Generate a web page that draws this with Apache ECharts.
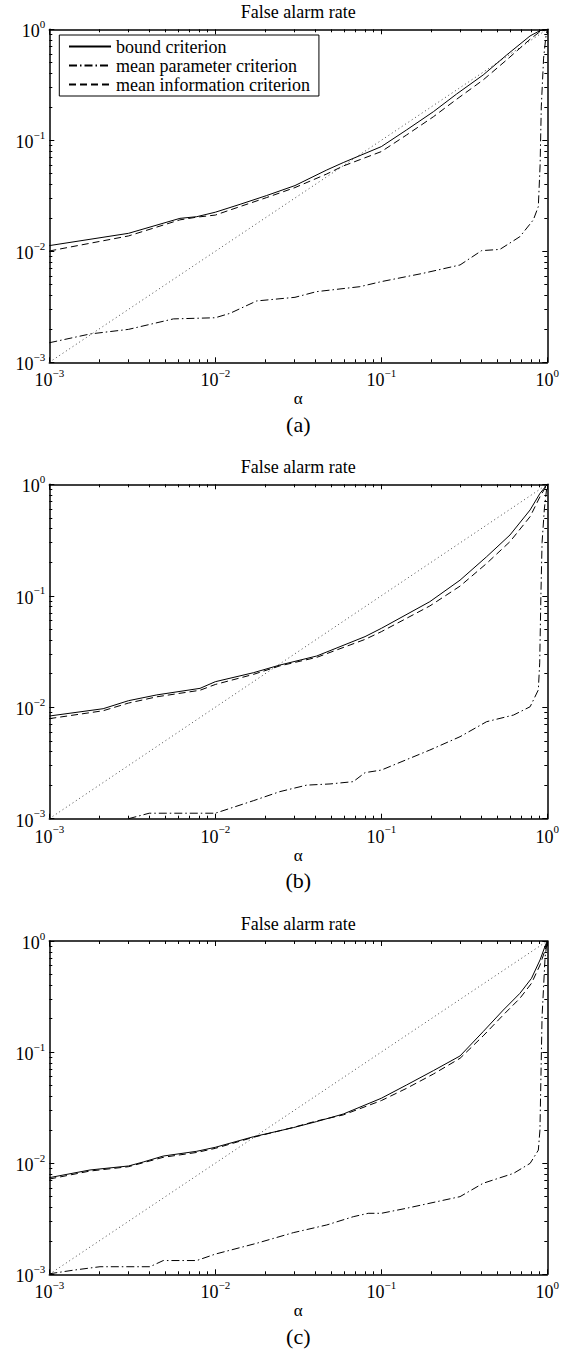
<!DOCTYPE html>
<html>
<head>
<meta charset="utf-8">
<script src="https://cdn.jsdelivr.net/npm/echarts@6/dist/echarts.min.js"></script>
<style>
html,body{margin:0;padding:0;background:#fff}
#c{width:572px;height:1349px}
</style>
</head>
<body>
<div id="c"></div>
<script>
// ---------- data ----------
const seriesNames = ['bound criterion', 'mean parameter criterion', 'mean information criterion'];
const titleText = 'False alarm rate';
const xName = 'α';
const panelLabels = ['(a)', '(b)', '(c)'];
const minorTicks = [0.002, 0.003, 0.004, 0.005, 0.006, 0.007, 0.008, 0.009,
                    0.02, 0.03, 0.04, 0.05, 0.06, 0.07, 0.08, 0.09,
                    0.2, 0.3, 0.4, 0.5, 0.6, 0.7, 0.8, 0.9];
const diagAlpha = [0.001, 1];
const diagValue = [0.001, 1];

// panel (a)
const alphaA = [0.001, 0.003, 0.00612, 0.00773, 0.01, 0.0141, 0.0204, 0.0302, 0.0469, 0.059, 0.1, 0.142, 0.206, 0.284, 0.411, 0.569, 0.787, 0.904, 1];
const boundA = [0.01125, 0.01452, 0.0198, 0.0205, 0.0225, 0.0265, 0.0318, 0.0391, 0.054, 0.063, 0.0877, 0.124, 0.181, 0.261, 0.388, 0.587, 0.871, 0.973, 1];
const infoA  = [0.01006, 0.01375, 0.0192, 0.0203, 0.0212, 0.0253, 0.0305, 0.0375, 0.0497, 0.0587, 0.0791, 0.1117, 0.163, 0.234, 0.350, 0.530, 0.813, 0.953, 1];
const mpAlphaA = [0.001, 0.00176, 0.003, 0.00559, 0.01, 0.01225, 0.01774, 0.0302, 0.0407, 0.0743, 0.1, 0.179, 0.298, 0.402, 0.518, 0.684, 0.824, 0.883, 0.905, 0.92, 0.95, 0.98, 1];
const mpA      = [0.0015, 0.0018, 0.00198, 0.00246, 0.00252, 0.00276, 0.00357, 0.00385, 0.00433, 0.0048, 0.00533, 0.00634, 0.00753, 0.01014, 0.0104, 0.01355, 0.0192, 0.0253, 0.06, 0.2, 0.55, 0.85, 1];

// panel (b)
const alphaB = [0.001, 0.00211, 0.003, 0.00444, 0.00809, 0.01, 0.01695, 0.0245, 0.0408, 0.0798, 0.1, 0.196, 0.298, 0.431, 0.596, 0.788, 0.904, 1];
const boundB = [0.00834, 0.0097, 0.01145, 0.0129, 0.01477, 0.01695, 0.0204, 0.0239, 0.0288, 0.043, 0.051, 0.0885, 0.138, 0.224, 0.351, 0.589, 0.83, 1];
const infoB  = [0.0079, 0.0093, 0.0109, 0.0124, 0.0142, 0.0160, 0.0197, 0.0235, 0.0280, 0.0406, 0.0476, 0.081, 0.122, 0.195, 0.306, 0.513, 0.775, 1];
const mpAlphaB = [0.003, 0.004, 0.01, 0.01695, 0.0245, 0.0355, 0.0491, 0.0678, 0.0798, 0.1, 0.196, 0.298, 0.431, 0.626, 0.788, 0.883, 0.9, 0.915, 0.93, 0.96, 0.99, 1];
const mpB      = [0.001, 0.00112, 0.00112, 0.00145, 0.00175, 0.0020, 0.00205, 0.00215, 0.00259, 0.00273, 0.00413, 0.00544, 0.00742, 0.00851, 0.0101, 0.0143, 0.025, 0.1, 0.3, 0.6, 0.9, 1];

// panel (c)
const alphaC = [0.001, 0.00176, 0.003, 0.00368, 0.00486, 0.00773, 0.01, 0.01695, 0.0295, 0.0408, 0.059, 0.1, 0.142, 0.206, 0.298, 0.411, 0.543, 0.684, 0.803, 0.904, 0.97, 1];
const boundC = [0.00741, 0.00869, 0.00944, 0.01025, 0.0116, 0.0128, 0.0139, 0.0173, 0.0209, 0.0237, 0.0277, 0.0384, 0.0506, 0.0681, 0.0923, 0.153, 0.239, 0.338, 0.461, 0.675, 0.9, 1];
const infoC  = [0.0072, 0.0085, 0.0093, 0.0101, 0.0113, 0.0125, 0.0136, 0.0171, 0.0210, 0.0240, 0.0272, 0.0366, 0.0472, 0.0635, 0.0879, 0.140, 0.216, 0.305, 0.416, 0.608, 0.83, 1];
const mpAlphaC = [0.001, 0.0014, 0.00202, 0.00404, 0.00486, 0.00773, 0.01, 0.0177, 0.0295, 0.0469, 0.0678, 0.0834, 0.1, 0.142, 0.298, 0.411, 0.626, 0.788, 0.883, 0.903, 0.93, 0.97, 1];
const mpC      = [0.00101, 0.00109, 0.00117, 0.00117, 0.00133, 0.00133, 0.00152, 0.0019, 0.00237, 0.00278, 0.0033, 0.00354, 0.00354, 0.00393, 0.0050, 0.0066, 0.0081, 0.00997, 0.0131, 0.0199, 0.209, 0.72, 1];

const panelData = [
  { alpha: alphaA, bound: boundA, info: infoA, mpAlpha: mpAlphaA, mp: mpA },
  { alpha: alphaB, bound: boundB, info: infoB, mpAlpha: mpAlphaB, mp: mpB },
  { alpha: alphaC, bound: boundC, info: infoC, mpAlpha: mpAlphaC, mp: mpC }
];

// ---------- layout / style ----------
const FONT = "'Liberation Serif','Times New Roman',serif";
const LEFT = 49.3, RIGHT_EDGE = 547.3;
const layout = [
  { top: 29.3, height: 333 },
  { top: 484.3, height: 334.4 },
  { top: 941, height: 333.3 }
];
const CX = (LEFT + RIGHT_EDGE) / 2;

function pairs(xs, ys) { return xs.map((x, i) => [x, ys[i]]); }

function tickFormatter(v) {
  const e = Math.round(Math.log10(v));
  const s = e < 0 ? '\u2212' + (-e) : String(e);
  return '{b|10}{s|' + s + '}';
}
const richLabel = {
  b: { fontFamily: FONT, fontSize: 18, color: '#000', lineHeight: 22, verticalAlign: 'bottom' },
  s: { fontFamily: FONT, fontSize: 11, color: '#000', lineHeight: 11, verticalAlign: 'top' }
};

function makeAxis(gridIndex, position, opts) {
  const ax = {
    type: 'log', logBase: 10, min: 0.001, max: 1, gridIndex: gridIndex, position: position,
    axisLine: { show: !opts.minor, onZero: false, lineStyle: { color: '#000', width: 1.5 } },
    axisTick: { show: true, inside: true, length: opts.minor ? 3 : 5, lineStyle: { color: '#000', width: 1 } },
    axisLabel: { show: false },
    splitLine: { show: false },
    minorTick: { show: false },
    minorSplitLine: { show: false }
  };
  if (opts.minor) ax.axisTick.customValues = minorTicks;
  if (opts.labels) {
    ax.axisLabel = { show: true, formatter: tickFormatter, rich: richLabel, margin: opts.margin,
      fontFamily: FONT, fontSize: 18, color: '#000' };
  }
  if (opts.name) {
    ax.name = opts.name;
    ax.nameLocation = 'middle';
    ax.nameGap = 28;
    ax.nameTextStyle = { fontFamily: FONT, fontSize: 17, color: '#000' };
  }
  return ax;
}

const grids = [], xAxes = [], yAxes = [], series = [], graphics = [];
layout.forEach((L, p) => {
  grids.push({ left: LEFT, width: RIGHT_EDGE - LEFT, top: L.top, height: L.height, containLabel: false });
  const xi = xAxes.length, yi = yAxes.length;
  xAxes.push(makeAxis(p, 'bottom', { labels: true, margin: 5, name: xName }));
  xAxes.push(makeAxis(p, 'top', {}));
  xAxes.push(makeAxis(p, 'bottom', { minor: true }));
  xAxes.push(makeAxis(p, 'top', { minor: true }));
  yAxes.push(makeAxis(p, 'left', { labels: true, margin: 4 }));
  yAxes.push(makeAxis(p, 'right', {}));
  yAxes.push(makeAxis(p, 'left', { minor: true }));
  yAxes.push(makeAxis(p, 'right', { minor: true }));

  const d = panelData[p];
  const base = { type: 'line', xAxisIndex: xi, yAxisIndex: yi, symbol: 'none', showSymbol: false, animation: false, silent: true };
  series.push(Object.assign({}, base, { name: seriesNames[0], data: pairs(d.alpha, d.bound),
    lineStyle: { color: '#000', width: 1, type: 'solid' }, itemStyle: { color: '#000' }, z: 5 }));
  series.push(Object.assign({}, base, { name: seriesNames[1], data: pairs(d.mpAlpha, d.mp),
    lineStyle: { color: '#000', width: 1, type: [8, 3, 1.5, 3] }, itemStyle: { color: '#000' }, z: 4 }));
  series.push(Object.assign({}, base, { name: seriesNames[2], data: pairs(d.alpha, d.info),
    lineStyle: { color: '#000', width: 1, type: [7, 4] }, itemStyle: { color: '#000' }, z: 4 }));
  series.push(Object.assign({}, base, { name: 'diagonal', data: pairs(diagAlpha, diagValue),
    lineStyle: { color: '#333', width: 0.9, type: [1, 3] }, itemStyle: { color: '#333' }, z: 3 }));

  graphics.push({ type: 'text', x: CX, y: L.top - 17.5,
    style: { text: titleText, fontFamily: FONT, fontSize: 18, fill: '#000', textAlign: 'center', textVerticalAlign: 'middle', verticalAlign: 'middle' } });
  graphics.push({ type: 'text', x: CX, y: L.top + L.height + 62,
    style: { text: panelLabels[p], fontFamily: FONT, fontSize: 22, fill: '#000', textAlign: 'center', textVerticalAlign: 'middle', verticalAlign: 'middle' } });
});

const chart = echarts.init(document.getElementById('c'), null, { renderer: 'svg', width: 572, height: 1349 });
chart.setOption({
  backgroundColor: '#fff',
  animation: false,
  grid: grids,
  xAxis: xAxes,
  yAxis: yAxes,
  series: series,
  graphic: graphics,
  legend: {
    data: seriesNames,
    orient: 'vertical',
    left: 59.3, top: 35,
    padding: [2, 9, 2, 8.7],
    itemGap: 0,
    itemWidth: 42, itemHeight: 14,
    borderColor: '#000', borderWidth: 1,
    backgroundColor: '#fff',
    selectedMode: false,
    itemStyle: { opacity: 0, borderWidth: 0 },
    textStyle: { fontFamily: FONT, fontSize: 18, color: '#000', lineHeight: 19 }
  }
});
</script>
</body>
</html>
